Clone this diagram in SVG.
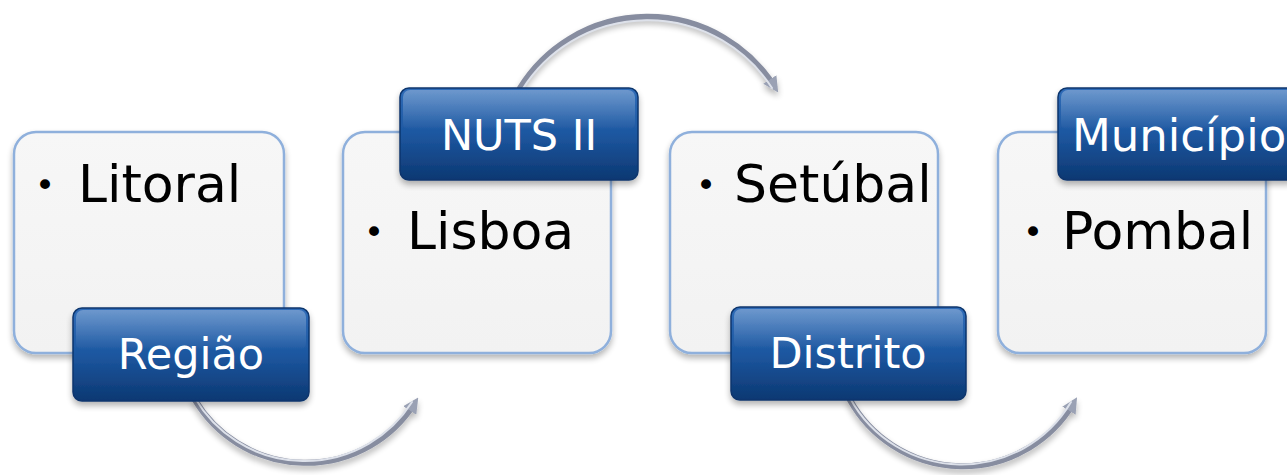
<svg xmlns="http://www.w3.org/2000/svg" width="1287" height="475" viewBox="0 0 1287 475">
<defs>
<linearGradient id="boxFill" x1="0" y1="0" x2="0" y2="1">
<stop offset="0" stop-color="#f7f7f7"/>
<stop offset="1" stop-color="#f2f2f2"/>
</linearGradient>
<linearGradient id="lblFill" x1="0" y1="0" x2="0" y2="1">
<stop offset="0" stop-color="#2f6cb8"/>
<stop offset="0.5" stop-color="#1d57a0"/>
<stop offset="1" stop-color="#0c3872"/>
</linearGradient>
<linearGradient id="lblGloss" x1="0" y1="0" x2="0" y2="1">
<stop offset="0" stop-color="#ffffff" stop-opacity="0.3"/>
<stop offset="1" stop-color="#ffffff" stop-opacity="0"/>
</linearGradient>
<filter id="shadow" x="-10%" y="-10%" width="120%" height="130%">
<feGaussianBlur in="SourceAlpha" stdDeviation="3"/>
<feOffset dx="0" dy="4" result="b"/>
<feComponentTransfer><feFuncA type="linear" slope="0.3"/></feComponentTransfer>
<feMerge><feMergeNode/><feMergeNode in="SourceGraphic"/></feMerge>
</filter>
<marker id="head" viewBox="0 0 10 10" refX="5" refY="5" markerWidth="2.6" markerHeight="2.6" orient="auto" markerUnits="strokeWidth">
<path d="M0 0 L10 5 L0 10 z" fill="#9aa1b4"/>
</marker>
<style>
.box{fill:url(#boxFill);stroke:#8fb0dc;stroke-width:2.5}
.lbl{fill:url(#lblFill);stroke:#0b356d;stroke-width:1.5}
.gloss{fill:url(#lblGloss)}
.item{font-family:"DejaVu Sans",sans-serif;font-size:52px;fill:#000}
.bul{font-family:"DejaVu Sans",sans-serif;font-size:34px;fill:#000}
.ltxt{font-family:"DejaVu Sans",sans-serif;font-size:43px;fill:#fff}
.arc{fill:none;stroke:#878da0;stroke-width:6;stroke-linecap:round}
.arcHi{fill:none;stroke:#dde1ea;stroke-width:2;stroke-linecap:round}
</style>
</defs>
<g id="connectors">
<path class="arc" d="M195 400 A129 129 0 0 0 414 404" marker-end="url(#head)" filter="url(#shadow)"/>
<path class="arcHi" d="M195 398 A127 127 0 0 0 412 402"/>
<path class="arc" d="M520 88 A150 150 0 0 1 774 86" marker-end="url(#head)" filter="url(#shadow)"/>
<path class="arcHi" d="M522 90 A148 148 0 0 1 772 88"/>
<path class="arc" d="M850 400 A129 129 0 0 0 1073 404" marker-end="url(#head)" filter="url(#shadow)"/>
<path class="arcHi" d="M850 398 A127 127 0 0 0 1071 402"/>
</g>
<g id="node-litoral">
<rect class="box" x="14" y="132" width="270" height="221" rx="22" filter="url(#shadow)"/>
<text class="bul" x="35" y="197">•</text>
<text class="item" x="78" y="202">Litoral</text>
</g>
<g id="node-lisboa">
<rect class="box" x="343" y="132" width="268" height="221" rx="22" filter="url(#shadow)"/>
<text class="bul" x="364" y="244">•</text>
<text class="item" x="407" y="249">Lisboa</text>
</g>
<g id="node-setubal">
<rect class="box" x="670" y="132" width="268" height="221" rx="22" filter="url(#shadow)"/>
<text class="bul" x="696" y="197">•</text>
<text class="item" x="734" y="202">Setúbal</text>
</g>
<g id="node-pombal">
<rect class="box" x="998" y="132" width="268" height="221" rx="22" filter="url(#shadow)"/>
<text class="bul" x="1023" y="244">•</text>
<text class="item" x="1062" y="249">Pombal</text>
</g>
<g id="label-regiao">
<rect class="lbl" x="73" y="308" width="236" height="93" rx="9" filter="url(#shadow)"/>
<rect class="gloss" x="76" y="310" width="230" height="40" rx="7"/>
<text class="ltxt" x="191" y="369" text-anchor="middle">Região</text>
</g>
<g id="label-nuts">
<rect class="lbl" x="400" y="88" width="238" height="92" rx="9" filter="url(#shadow)"/>
<rect class="gloss" x="403" y="90" width="232" height="40" rx="7"/>
<text class="ltxt" x="519" y="150" text-anchor="middle">NUTS II</text>
</g>
<g id="label-distrito">
<rect class="lbl" x="731" y="307" width="235" height="93" rx="9" filter="url(#shadow)"/>
<rect class="gloss" x="734" y="309" width="229" height="40" rx="7"/>
<text class="ltxt" x="848" y="368" text-anchor="middle">Distrito</text>
</g>
<g id="label-municipio">
<rect class="lbl" x="1058" y="88" width="238" height="92" rx="9" filter="url(#shadow)"/>
<rect class="gloss" x="1061" y="90" width="232" height="40" rx="7"/>
<text class="ltxt" x="1072" y="151" style="font-size:45px">Município</text>
</g>
</svg>
